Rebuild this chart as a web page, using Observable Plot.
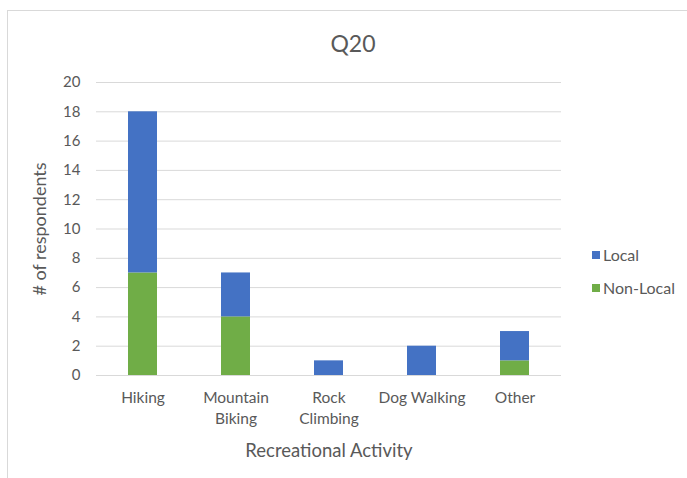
<!DOCTYPE html>
<html>
<head>
<meta charset="utf-8">
<script src="https://cdn.jsdelivr.net/npm/d3@7"></script>
<script src="https://cdn.jsdelivr.net/npm/@observablehq/plot@0.6"></script>
<style>
  html, body { margin: 0; padding: 0; background: #fff; }
  #wrap { position: relative; width: 687px; height: 478px; overflow: hidden; font-family: Lato, "Open Sans", sans-serif; color: #595959; }
  #frame { position: absolute; left: 7px; top: 10px; width: 690px; height: 480px; border: 1px solid #d9d9d9; box-sizing: border-box; }
  #title { position: absolute; left: 0; width: 706px; top: 29px; text-align: center; font-size: 23px; color: #595959; }
  #legend { position: absolute; left: 592px; top: 238px; font-size: 16px; color: #595959; }
  .li { display: flex; align-items: center; height: 33px; line-height: 20px; margin-top: 0; }
  .li span.sw { display: inline-block; width: 8px; height: 8px; margin-right: 3px; }
  #chart { position: absolute; left: 0; top: 0; }
</style>
</head>
<body>
<div id="wrap">
  <div id="frame"></div>
  <div id="chart"></div>
  <div id="title">Q20</div>
  <div id="legend"></div>
</div>
<script>
const categories = ["Hiking", "Mountain Biking", "Rock Climbing", "Dog Walking", "Other"];
const tickLabels = ["Hiking", "Mountain\nBiking", "Rock\nClimbing", "Dog Walking", "Other"];
const localValues = [11, 3, 1, 2, 2];
const nonLocalValues = [7, 4, 0, 0, 1];
const seriesNames = ["Non-Local", "Local"];
const seriesColors = ["#70ad47", "#4472c4"];
const legendOrder = ["Local", "Non-Local"];
const yTicks = [0, 2, 4, 6, 8, 10, 12, 14, 16, 18, 20];
const xTitle = "Recreational Activity";
const yTitle = "# of respondents";

const rows = [];
categories.forEach((c, i) => rows.push({category: c, series: "Non-Local", value: nonLocalValues[i]}));
categories.forEach((c, i) => rows.push({category: c, series: "Local", value: localValues[i]}));

const labelMap = new Map(categories.map((c, i) => [c, tickLabels[i]]));

const chart = Plot.plot({
  width: 687,
  height: 478,
  marginLeft: 96,
  marginRight: 126,
  marginTop: 82,
  marginBottom: 103,
  style: {fontFamily: "Lato, 'Open Sans', sans-serif", fontSize: "15px", color: "#595959", background: "transparent"},
  x: {domain: categories, paddingInner: 0.69, paddingOuter: 0.345, label: null},
  y: {domain: [0, 20], label: null},
  color: {domain: seriesNames, range: seriesColors},
  marks: [
    Plot.gridY(yTicks, {stroke: "#d9d9d9", strokeOpacity: 1}),
    Plot.barY(rows, Plot.stackY({x: "category", y: "value", fill: "series", order: seriesNames})),
    Plot.ruleY([0], {stroke: "#d9d9d9"}),
    Plot.axisY(yTicks, {tickSize: 0, tickPadding: 16, fill: "#595959", fontSize: 15, label: null}),
    Plot.axisX({tickSize: 0, tickPadding: 13, fill: "#595959", fontSize: 15.5, label: null, lineHeight: 1.35, tickFormat: d => labelMap.get(d)}),
    Plot.text([xTitle], {frameAnchor: "bottom", dy: 81, text: d => d, fill: "#595959", fontSize: 18.5}),
    Plot.text([yTitle], {frameAnchor: "left", textAnchor: "middle", dx: -56, rotate: -90, text: d => d, fill: "#595959", fontSize: 18})
  ]
});
document.getElementById("chart").appendChild(chart);

const legend = document.getElementById("legend");
legendOrder.forEach(name => {
  const row = document.createElement("div");
  row.className = "li";
  const sw = document.createElement("span");
  sw.className = "sw";
  sw.style.background = seriesColors[seriesNames.indexOf(name)];
  row.appendChild(sw);
  row.appendChild(document.createTextNode(name));
  legend.appendChild(row);
});
</script>
</body>
</html>
